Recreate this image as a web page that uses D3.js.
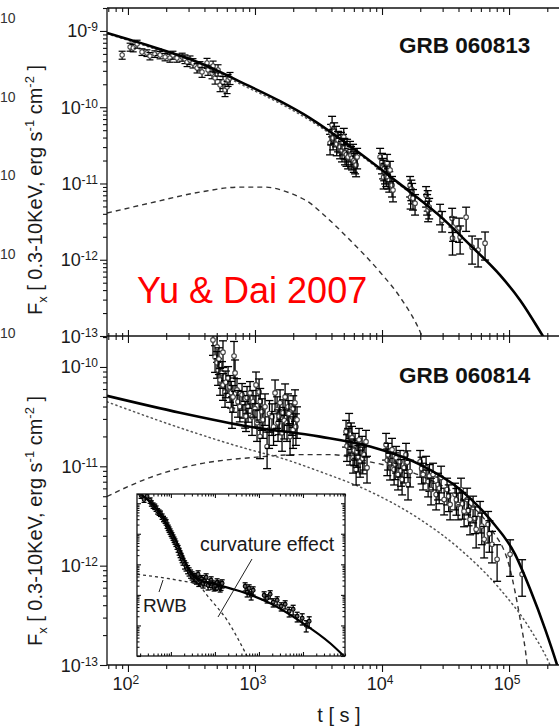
<!DOCTYPE html>
<html>
<head>
<meta charset="utf-8">
<script src="https://cdn.jsdelivr.net/npm/d3@7"></script>
<style>
  html, body { margin: 0; padding: 0; background: #fff; }
  svg { display: block; }
</style>
</head>
<body>
<svg id="chart" width="559" height="727"></svg>
<script>
// ---- GRB 060813: X-ray flux [t (s), F (erg s^-1 cm^-2), relative error] ----
const grb060813Early = [
  [90, 4.84e-10, 0.12], [104, 6.17e-10, 0.12], [110, 5.98e-10, 0.11], [118, 6.75e-10, 0.12],
  [129, 5.30e-10, 0.10], [141, 5.14e-10, 0.10], [149, 4.69e-10, 0.11], [163, 4.99e-10, 0.10],
  [173, 5.30e-10, 0.10], [179, 4.84e-10, 0.11], [196, 4.56e-10, 0.11], [214, 4.42e-10, 0.12],
  [226, 4.84e-10, 0.12], [243, 4.42e-10, 0.12], [267, 4.56e-10, 0.12], [281, 4.29e-10, 0.13],
  [292, 3.92e-10, 0.13], [308, 4.16e-10, 0.13], [325, 3.80e-10, 0.14], [350, 3.27e-10, 0.14],
  [369, 3.47e-10, 0.14], [383, 2.90e-10, 0.15], [419, 3.80e-10, 0.15], [427, 3.08e-10, 0.15],
  [459, 2.81e-10, 0.16], [468, 3.47e-10, 0.16], [485, 2.42e-10, 0.17], [512, 3.08e-10, 0.17],
  [531, 1.95e-10, 0.18], [560, 2.14e-10, 0.18], [581, 1.68e-10, 0.18], [603, 1.84e-10, 0.18],
  [614, 2.28e-10, 0.18], [636, 2.42e-10, 0.18]
];
const grb060813Late = [
  [3900, 3.39e-11, 0.3], [3972, 4.58e-11, 0.3], [4045, 5.84e-11, 0.3], [4120, 3.94e-11, 0.3],
  [4200, 4.8e-11, 0.3], [4345, 4.32e-11, 0.3], [4400, 3.3e-11, 0.3], [4508, 3.71e-11, 0.3],
  [4677, 3.01e-11, 0.3], [4750, 3.6e-11, 0.3], [4842, 2.74e-11, 0.3], [4931, 3.39e-11, 0.3],
  [5000, 4.06e-11, 0.3], [5050, 3.0e-11, 0.3], [5115, 2.51e-11, 0.3], [5250, 2.4e-11, 0.3],
  [5309, 2.92e-11, 0.3], [5408, 2.22e-11, 0.3], [5598, 2.74e-11, 0.3], [5700, 2.35e-11, 0.3],
  [5808, 2.15e-11, 0.3], [5916, 2.51e-11, 0.3], [6000, 2.0e-11, 0.3], [6138, 1.91e-11, 0.3],
  [6250, 1.75e-11, 0.3], [6368, 2.22e-11, 0.3], [9661, 2.22e-11, 0.3], [10000, 1.91e-11, 0.3],
  [10190, 1.64e-11, 0.3], [10300, 1.21e-11, 0.3], [10400, 1.55e-11, 0.3], [10570, 1.41e-11, 0.3],
  [10800, 1.3e-11, 0.3], [10960, 1.85e-11, 0.3], [11170, 1.21e-11, 0.3], [11400, 1.1e-11, 0.3],
  [11570, 1.50e-11, 0.3], [11990, 9.5e-12, 0.3], [12200, 8.2e-12, 0.3],
  [16630, 9.5e-12, 0.3], [16800, 6.6e-12, 0.3], [17000, 8.5e-12, 0.3], [17260, 7.7e-12, 0.3],
  [17540, 6.4e-12, 0.3], [18200, 5.5e-12, 0.3], [22230, 7.0e-12, 0.3], [22650, 5.5e-12, 0.3],
  [22900, 6.2e-12, 0.3], [23070, 4.5e-12, 0.3], [23500, 4.9e-12, 0.3], [28640, 4.1e-12, 0.3],
  [29720, 3.3e-12, 0.3], [35650, 3.5e-12, 0.35], [35900, 1.92e-12, 0.4], [36260, 2.68e-12, 0.35],
  [40430, 2.60e-12, 0.35], [41200, 1.98e-12, 0.4], [45920, 3.62e-12, 0.35], [51170, 1.46e-12, 0.4],
  [57040, 1.34e-12, 0.4], [64740, 1.65e-12, 0.4]
];
// model curves for GRB 060813 [t, F]
const fit060813 = [
  [68.4, 9.4e-10], [149, 6.35e-10], [369, 3.80e-10], [836, 2.01e-10], [1575, 1.20e-10],
  [2712, 7.21e-11], [5598, 3.10e-11], [13870, 9.8e-12], [28640, 3.73e-12], [49360, 1.56e-12],
  [84950, 6.28e-13], [122200, 2.95e-13], [185400, 9.9e-14], [302700, 2.6e-14]
];
const dotted060813 = [
  [68.4, 9.2e-10], [149, 6.1e-10], [369, 3.6e-10], [836, 1.88e-10], [1575, 1.12e-10],
  [2712, 6.7e-11], [5598, 2.95e-11], [13870, 9.5e-12], [28640, 3.7e-12], [49360, 1.56e-12],
  [84950, 6.28e-13], [122200, 2.95e-13], [185400, 9.9e-14], [302700, 2.6e-14]
];
const dashed060813 = [
  [68.4, 4.09e-12], [149, 5.53e-12], [369, 7.71e-12], [762, 8.97e-12], [1199, 8.97e-12],
  [1888, 7.48e-12], [2712, 5.53e-12], [3436, 3.96e-12], [5598, 1.81e-12], [9661, 6.87e-13],
  [13870, 3.23e-13], [20650, 9.9e-14], [24000, 5e-14]
];

// ---- GRB 060814 ----
const grb060814Early = [
  [467, 1.87e-10, 0.3], [485, 1.26e-10, 0.3], [503, 1.59e-10, 0.3], [503, 1.10e-10, 0.3],
  [512, 9.33e-11, 0.3], [520, 1.2e-10, 0.3], [531, 7.41e-11, 0.3], [550, 8.71e-11, 0.3],
  [560, 1.41e-10, 0.3], [560, 6.59e-11, 0.3], [581, 5.61e-11, 0.3], [590, 7.0e-11, 0.3],
  [614, 7.76e-11, 0.3], [636, 6.30e-11, 0.3], [650, 5.5e-11, 0.3], [659, 3.71e-11, 0.35],
  [671, 5.00e-11, 0.3], [684, 1.29e-10, 0.4], [697, 8.71e-11, 0.35], [722, 5.87e-11, 0.3],
  [735, 4.46e-11, 0.3], [760, 4.0e-11, 0.3], [791, 5.24e-11, 0.3], [805, 4.36e-11, 0.3],
  [836, 3.46e-11, 0.3], [850, 3.2e-11, 0.3], [866, 4.89e-11, 0.3], [882, 3.97e-11, 0.3],
  [914, 5.48e-11, 0.3], [948, 3.15e-11, 0.35], [966, 4.46e-11, 0.3], [1000, 3.8e-11, 0.35],
  [1019, 6.59e-11, 0.35], [1038, 2.74e-11, 0.35], [1077, 5.61e-11, 0.35], [1096, 1.99e-11, 0.4],
  [1100, 4.5e-11, 0.35], [1136, 3.54e-11, 0.35], [1157, 2.94e-11, 0.35], [1199, 3.97e-11, 0.35],
  [1245, 1.58e-11, 0.4], [1291, 2.33e-11, 0.35], [1300, 3.4e-11, 0.35], [1362, 3.15e-11, 0.35],
  [1400, 2.5e-11, 0.35], [1439, 5.48e-11, 0.35], [1493, 3.71e-11, 0.35], [1518, 2.74e-11, 0.35],
  [1550, 3.2e-11, 0.35], [1575, 4.36e-11, 0.35], [1633, 2.18e-11, 0.35], [1663, 3.46e-11, 0.35],
  [1700, 2.9e-11, 0.35], [1726, 5.00e-11, 0.35], [1787, 2.74e-11, 0.35], [1820, 3.97e-11, 0.35],
  [1850, 3.4e-11, 0.35], [1888, 1.99e-11, 0.35], [1959, 3.15e-11, 0.35], [1995, 2.33e-11, 0.35],
  [2000, 3.8e-11, 0.35], [2065, 4.36e-11, 0.35], [2100, 2.5e-11, 0.35], [2143, 2.94e-11, 0.35]
];
const grb060814Late = [
  [5212, 2.23e-11, 0.3], [5300, 1.6e-11, 0.3], [5408, 1.85e-11, 0.3], [5508, 2.62e-11, 0.3],
  [5598, 1.47e-11, 0.3], [5700, 2.1e-11, 0.3], [5808, 1.94e-11, 0.3], [5916, 1.22e-11, 0.3],
  [6050, 1.45e-11, 0.3], [6138, 1.65e-11, 0.3], [6252, 9.27e-12, 0.3], [6368, 1.40e-11, 0.3],
  [6500, 1.25e-11, 0.3], [6592, 1.85e-11, 0.3], [6718, 1.11e-11, 0.3], [6966, 1.54e-11, 0.3],
  [7050, 1.2e-11, 0.3], [7228, 1.31e-11, 0.3], [7482, 1.77e-11, 0.3], [7621, 9.70e-12, 0.3],
  [10760, 1.65e-11, 0.3], [11000, 1.15e-11, 0.3], [11170, 1.31e-11, 0.3], [11570, 1.04e-11, 0.3],
  [11990, 1.47e-11, 0.3], [12450, 9.27e-12, 0.3], [12700, 1.05e-11, 0.3], [12910, 1.22e-11, 0.3],
  [13370, 8.26e-12, 0.3], [13870, 1.11e-11, 0.3], [14100, 9.0e-12, 0.3], [14390, 7.36e-12, 0.3],
  [14930, 9.70e-12, 0.3], [15450, 1.31e-11, 0.3], [15800, 1.1e-11, 0.3], [16030, 6.55e-12, 0.3],
  [16630, 8.85e-12, 0.3], [19950, 1.11e-11, 0.3], [20500, 9.5e-12, 0.3], [21040, 8.26e-12, 0.3],
  [22230, 9.70e-12, 0.3], [23070, 7.03e-12, 0.3], [23600, 8.0e-12, 0.3], [24320, 5.84e-12, 0.3],
  [25230, 8.26e-12, 0.3], [26670, 5.20e-12, 0.3], [27610, 6.55e-12, 0.3], [28200, 6.0e-12, 0.3],
  [29170, 7.71e-12, 0.3], [30830, 4.63e-12, 0.3], [32510, 5.84e-12, 0.3], [33500, 5.0e-12, 0.3],
  [34360, 4.13e-12, 0.3], [37580, 5.20e-12, 0.3], [38500, 4.6e-12, 0.3], [39720, 4.13e-12, 0.3],
  [41880, 5.84e-12, 0.3], [43000, 4.2e-12, 0.3], [44260, 3.52e-12, 0.3], [46770, 4.63e-12, 0.3],
  [48000, 3.6e-12, 0.3], [49320, 2.92e-12, 0.3], [52120, 3.85e-12, 0.3], [54000, 3.0e-12, 0.3],
  [55080, 2.32e-12, 0.35], [59160, 3.28e-12, 0.35], [61000, 2.5e-12, 0.35], [63680, 1.84e-12, 0.35],
  [68390, 2.60e-12, 0.35], [70000, 2.1e-12, 0.35], [73450, 1.64e-12, 0.35], [80540, 1.16e-12, 0.4],
  [101900, 1.30e-12, 0.4], [126700, 8.2e-13, 0.4]
];
const fit060814 = [
  [68.4, 5.12e-11], [257, 3.46e-11], [914, 2.50e-11], [3251, 1.99e-11], [8054, 1.58e-11],
  [19950, 1.04e-11], [41200, 5.84e-12], [70960, 2.92e-12], [111600, 1.30e-12], [146600, 5.79e-13],
  [192300, 2.30e-13], [238800, 1.0e-13], [300000, 3.5e-14]
];
const dotted060814 = [
  [68.4, 4.46e-11], [257, 2.44e-11], [914, 1.47e-11], [1575, 1.22e-11], [3251, 8.85e-12],
  [8054, 5.57e-12], [19950, 2.92e-12], [41200, 1.46e-12], [84950, 5.8e-13], [146600, 2.3e-13],
  [210200, 1.0e-13], [260000, 5e-14]
];
const dashed060814 = [
  [68.4, 4.97e-12], [149, 7.71e-12], [369, 1.06e-11], [914, 1.22e-11], [2265, 1.31e-11],
  [3900, 1.31e-11], [8054, 1.11e-11], [19950, 8.07e-12], [41200, 4.85e-12], [70960, 2.43e-12],
  [101900, 9.2e-13], [122200, 2.9e-13], [138800, 1.0e-13], [146600, 4.6e-14]
];

// ---- inset: GRB 060814 with the early steep decay ----
const insetData = [
  [21, 1.80e-8, 0.2], [24.6, 1.33e-8, 0.2], [28.8, 1.67e-8, 0.2], [33.7, 1.24e-8, 0.2],
  [36, 1.0e-8, 0.2], [39.4, 8.48e-9, 0.2], [43, 7.8e-9, 0.2], [46.1, 6.76e-9, 0.2],
  [50, 5.5e-9, 0.2], [53.9, 5.00e-9, 0.2], [58, 4.6e-9, 0.2], [63.1, 3.70e-9, 0.2],
  [68, 3.1e-9, 0.2], [73.8, 2.74e-9, 0.2], [78, 2.4e-9, 0.2], [82, 1.88e-9, 0.2],
  [87, 1.6e-9, 0.2], [91, 1.39e-9, 0.2], [96, 1.2e-9, 0.2], [101, 1.03e-9, 0.2],
  [106, 9.0e-10, 0.2], [112, 7.62e-10, 0.2], [118, 6.5e-10, 0.2], [124, 5.65e-10, 0.2],
  [130, 4.8e-10, 0.2], [138, 3.87e-10, 0.2], [146, 3.3e-10, 0.25], [154, 2.66e-10, 0.25],
  [162, 2.2e-10, 0.25], [171, 1.82e-10, 0.25], [180, 1.5e-10, 0.25], [189, 1.25e-10, 0.25],
  [205, 1.0e-10, 0.3], [221, 8.6e-11, 0.3], [240, 7.0e-11, 0.3], [259, 5.9e-11, 0.3],
  [280, 5.0e-11, 0.3], [303, 4.37e-11, 0.3], [330, 3.9e-11, 0.3], [355, 3.48e-11, 0.3],
  [380, 3.2e-11, 0.3], [415, 4.71e-11, 0.3], [430, 2.7e-11, 0.3], [461, 3.0e-11, 0.3],
  [500, 3.3e-11, 0.3], [540, 2.39e-11, 0.3], [580, 2.8e-11, 0.3], [631, 3.76e-11, 0.3],
  [700, 2.06e-11, 0.3], [760, 2.5e-11, 0.3], [820, 3.0e-11, 0.3], [880, 2.2e-11, 0.3],
  [959, 1.91e-11, 0.3], [1040, 2.0e-11, 0.3], [1122, 2.58e-11, 0.3], [1220, 2.2e-11, 0.3],
  [1313, 1.77e-11, 0.3], [1380, 2.0e-11, 0.3], [1459, 2.39e-11, 0.3],
  [4856, 1.91e-11, 0.3], [5395, 1.22e-11, 0.3], [5984, 1.64e-11, 0.3], [6653, 9.7e-12, 0.3],
  [7389, 1.41e-11, 0.3], [13120, 9.7e-12, 0.3], [15350, 7.74e-12, 0.3], [17990, 1.05e-11, 0.3],
  [21040, 5.73e-12, 0.3], [25940, 6.66e-12, 0.3], [31990, 4.24e-12, 0.3], [39360, 4.93e-12, 0.3],
  [48530, 2.91e-12, 0.35], [59840, 3.38e-12, 0.35], [73790, 2.0e-12, 0.35], [95940, 1.72e-12, 0.4],
  [118300, 1.02e-12, 0.4], [138400, 1.37e-12, 0.4]
];
const insetFit = [
  [18.9, 2.25e-8], [56.8, 4.64e-9], [162, 3.09e-10], [273, 5.48e-11], [461, 3.0e-11],
  [1011, 2.22e-11], [3741, 1.31e-11], [17990, 5.31e-12], [86300, 1.37e-12], [415000, 2.62e-13],
  [863000, 9.8e-14]
];
const insetRwb = [[17.1, 4.71e-11], [82, 3.48e-11], [394, 2.39e-11], [1011, 2.1e-11]];
const insetCurvature = [[210, 9.3e-11], [665, 9.7e-12], [1892, 1.48e-12], [5395, 9.8e-14]];

// axis tick labels
const xTickLabels = [["10", "2", 100], ["10", "3", 1000], ["10", "4", 10000], ["10", "5", 100000]];
const topYLabels = [["10", "-9", 1e-9], ["10", "-10", 1e-10], ["10", "-11", 1e-11], ["10", "-12", 1e-12], ["10", "-13", 1e-13]];
const botYLabels = [["10", "-10", 1e-10], ["10", "-11", 1e-11], ["10", "-12", 1e-12], ["10", "-13", 1e-13]];
const edgeLabels = ["10", "10", "10", "10", "10"];

// ---------------------------------------------------------------
const FONT = '"Liberation Sans", Arial, Helvetica, sans-serif';
const svg = d3.select("#chart").attr("font-family", FONT);
svg.append("rect").attr("width", 559).attr("height", 727).attr("fill", "#fff");

const L = 107, R = 559, T = 8, MID = 336, B = 665;
const x = d3.scaleLog().domain([68.4, 5.2e5]).range([L, 600]);
const yTop = d3.scaleLog().domain([1e-13, 2e-9]).range([MID, T]);
const yBot = d3.scaleLog().domain([1e-13, 2.05e-10]).range([B, MID]);

function logTicks(lo, hi) {
  const major = [], minor = [];
  for (let e = Math.floor(Math.log10(lo)) - 1; e <= Math.ceil(Math.log10(hi)); e++) {
    for (let m = 1; m < 10; m++) {
      const v = +(m + "e" + e);
      if (v < lo * 0.9999 || v > hi * 1.0001) continue;
      (m === 1 ? major : minor).push(v);
    }
  }
  return { major, minor };
}

function tickAxis(g, axisFn, scale, vals, size, transform) {
  const a = g.append("g").attr("transform", transform)
    .call(axisFn(scale).tickValues(vals).tickSize(size).tickSizeOuter(0).tickFormat(""));
  a.select(".domain").remove();
  a.selectAll("line").attr("stroke", "#111").attr("stroke-width", 1.1);
}

// clip regions
const defs = svg.append("defs");
defs.append("clipPath").attr("id", "clipTop").append("rect").attr("x", L).attr("y", T).attr("width", R - L).attr("height", MID - T);
defs.append("clipPath").attr("id", "clipBot").append("rect").attr("x", L).attr("y", MID).attr("width", R - L).attr("height", B - MID);

const lineGen = (xs, ys) => d3.line().x(d => xs(d[0])).y(d => ys(d[1])).curve(d3.curveMonotoneX);

function drawCurve(g, data, xs, ys, style) {
  g.append("path").datum(data).attr("d", lineGen(xs, ys)).attr("fill", "none")
    .attr("stroke", style.color).attr("stroke-width", style.width)
    .attr("stroke-dasharray", style.dash || null).attr("stroke-linecap", style.cap || "butt");
}

function drawPoints(g, data, xs, ys, opt) {
  const p = g.append("g").selectAll("g").data(data).enter().append("g");
  const up = d => ys(d[1] * (1 + d[2])), lo = d => ys(d[1] * (1 - d[2]));
  p.append("line").attr("x1", d => xs(d[0])).attr("x2", d => xs(d[0]))
    .attr("y1", up).attr("y2", lo).attr("stroke", opt.bar).attr("stroke-width", opt.bw);
  p.append("line").attr("x1", d => xs(d[0]) - opt.cap).attr("x2", d => xs(d[0]) + opt.cap)
    .attr("y1", up).attr("y2", up).attr("stroke", opt.bar).attr("stroke-width", opt.bw);
  p.append("line").attr("x1", d => xs(d[0]) - opt.cap).attr("x2", d => xs(d[0]) + opt.cap)
    .attr("y1", lo).attr("y2", lo).attr("stroke", opt.bar).attr("stroke-width", opt.bw);
  p.append("circle").attr("cx", d => xs(d[0])).attr("cy", d => ys(d[1])).attr("r", opt.r)
    .attr("fill", opt.fill).attr("stroke", opt.marker).attr("stroke-width", 1.1);
}

const mainPts = { r: 2.3, cap: 4, bar: "#000", bw: 1.3, marker: "#444", fill: "#fff" };
const earlyPts = { r: 2.2, cap: 3.5, bar: "#000", bw: 1.2, marker: "#444", fill: "#fff" };
const insetPts = { r: 1.9, cap: 2.5, bar: "#000", bw: 1.3, marker: "#000", fill: "#666" };

const solidStyle = { color: "#000", width: 2.6 };
const dottedStyle = { color: "#555", width: 1.5, dash: "1.2,3.5", cap: "round" };
const dashedStyle = { color: "#333", width: 1.4, dash: "5,4" };

// ---- top panel ----
const gTop = svg.append("g").attr("clip-path", "url(#clipTop)");
drawCurve(gTop, dashed060813, x, yTop, dashedStyle);
drawCurve(gTop, dotted060813, x, yTop, dottedStyle);
drawPoints(gTop, grb060813Early, x, yTop, earlyPts);
drawPoints(gTop, grb060813Late, x, yTop, mainPts);
drawCurve(gTop, fit060813, x, yTop, solidStyle);

// ---- bottom panel ----
const gBot = svg.append("g").attr("clip-path", "url(#clipBot)");
drawCurve(gBot, dashed060814, x, yBot, dashedStyle);
drawCurve(gBot, dotted060814, x, yBot, dottedStyle);
drawPoints(gBot, grb060814Early, x, yBot, mainPts);
drawPoints(gBot, grb060814Late, x, yBot, mainPts);
drawCurve(gBot, fit060814, x, yBot, solidStyle);

// ---- frame lines ----
const frame = svg.append("g").attr("stroke", "#111").attr("stroke-width", 1.3);
frame.append("line").attr("x1", L).attr("x2", R).attr("y1", T).attr("y2", T);
frame.append("line").attr("x1", L).attr("x2", R).attr("y1", MID).attr("y2", MID);
frame.append("line").attr("x1", L).attr("x2", R).attr("y1", B).attr("y2", B);
frame.append("line").attr("x1", L).attr("x2", L).attr("y1", T).attr("y2", B);

// ---- x ticks ----
const xt = logTicks(68.4, 5.2e5);
const xMaj = xt.major.filter(v => x(v) <= R), xMin = xt.minor.filter(v => x(v) <= R);
tickAxis(svg, d3.axisBottom, x, xMaj, 7, `translate(0,${T})`);
tickAxis(svg, d3.axisBottom, x, xMin, 4, `translate(0,${T})`);
tickAxis(svg, d3.axisBottom, x, xMaj, 7, `translate(0,${MID})`);
tickAxis(svg, d3.axisBottom, x, xMin, 4, `translate(0,${MID})`);
tickAxis(svg, d3.axisTop, x, xMaj, 6, `translate(0,${MID})`);
tickAxis(svg, d3.axisTop, x, xMin, 3, `translate(0,${MID})`);
tickAxis(svg, d3.axisBottom, x, xMaj, 7, `translate(0,${B})`);
tickAxis(svg, d3.axisBottom, x, xMin, 4, `translate(0,${B})`);

// ---- y ticks ----
const ytT = logTicks(1e-13, 2e-9), ytB = logTicks(1e-13, 2.05e-10);
tickAxis(svg, d3.axisLeft, yTop, ytT.major, 7, `translate(${L},0)`);
tickAxis(svg, d3.axisLeft, yTop, ytT.minor, 4, `translate(${L},0)`);
tickAxis(svg, d3.axisLeft, yBot, ytB.major, 7, `translate(${L},0)`);
tickAxis(svg, d3.axisLeft, yBot, ytB.minor, 4, `translate(${L},0)`);

// ---- tick labels ----
function powerLabel(g, px, py, base, exp, anchor) {
  const t = g.append("text").attr("x", px).attr("y", py).attr("text-anchor", anchor)
    .attr("font-size", 18).attr("fill", "#1a1a1a");
  t.append("tspan").text(base);
  t.append("tspan").attr("dy", -6).attr("font-size", 12).text(exp);
}
const labels = svg.append("g");
topYLabels.forEach(d => powerLabel(labels, 98, yTop(d[2]) + 6.5, d[0], d[1], "end"));
botYLabels.forEach(d => powerLabel(labels, 98, yBot(d[2]) + 6.5, d[0], d[1], "end"));
xTickLabels.forEach(d => powerLabel(labels, x(d[2]) - 2, 690, d[0], d[1], "middle"));

// labels along the left edge
edgeLabels.forEach((s, i) => {
  labels.append("text").attr("x", 0).attr("y", 23 + i * 78.7).attr("text-anchor", "start")
    .attr("font-size", 14).attr("fill", "#333").text(s);
});

// ---- axis titles ----
function fluxTitle(cy) {
  const t = svg.append("text").attr("transform", `translate(42,${cy}) rotate(-90)`)
    .attr("text-anchor", "middle").attr("font-size", 20).attr("fill", "#1a1a1a");
  t.append("tspan").text("F");
  t.append("tspan").attr("dy", 5).attr("font-size", 13).text("x");
  t.append("tspan").attr("dy", -5).text(" [ 0.3-10KeV, erg s");
  t.append("tspan").attr("dy", -8).attr("font-size", 13).text("-1");
  t.append("tspan").attr("dy", 8).text(" cm");
  t.append("tspan").attr("dy", -8).attr("font-size", 13).text("-2");
  t.append("tspan").attr("dy", 8).text(" ]");
}
fluxTitle(190);
fluxTitle(521);
svg.append("text").attr("x", 339).attr("y", 722).attr("text-anchor", "middle")
  .attr("font-size", 20).attr("fill", "#1a1a1a").text("t [ s ]");

svg.append("text").attr("x", 399).attr("y", 53).attr("font-size", 22.5).attr("font-weight", "bold")
  .attr("fill", "#111").text("GRB 060813");
svg.append("text").attr("x", 399).attr("y", 383).attr("font-size", 22.5).attr("font-weight", "bold")
  .attr("fill", "#111").text("GRB 060814");
svg.append("text").attr("x", 137).attr("y", 303).attr("font-size", 36).attr("fill", "#ff0000")
  .text("Yu & Dai 2007");

// ---- inset ----
const IL = 137, IR = 345, IT = 494, IB = 656;
const xi = d3.scaleLog().domain([17, 9e5]).range([IL, IR]);
const yi = d3.scaleLog().domain([1e-13, 2e-8]).range([IB, IT]);
defs.append("clipPath").attr("id", "clipInset").append("rect").attr("x", IL).attr("y", IT).attr("width", IR - IL).attr("height", IB - IT);
const gIn = svg.append("g");
gIn.append("rect").attr("x", IL).attr("y", IT).attr("width", IR - IL).attr("height", IB - IT).attr("fill", "#fff");
const gInPlot = gIn.append("g").attr("clip-path", "url(#clipInset)");
drawCurve(gInPlot, insetRwb, xi, yi, { color: "#333", width: 1.3, dash: "3,3" });
drawCurve(gInPlot, insetCurvature, xi, yi, { color: "#333", width: 1.3, dash: "3,3" });
drawPoints(gInPlot, insetData, xi, yi, insetPts);
drawCurve(gInPlot, insetFit, xi, yi, { color: "#000", width: 2.2 });
gIn.append("rect").attr("x", IL).attr("y", IT).attr("width", IR - IL).attr("height", IB - IT)
  .attr("fill", "none").attr("stroke", "#111").attr("stroke-width", 1.3);
const xit = logTicks(17, 9e5), yit = logTicks(1e-13, 2e-8);
tickAxis(gIn, d3.axisTop, xi, xit.major, 4, `translate(0,${IB})`);
tickAxis(gIn, d3.axisTop, xi, xit.minor, 2.5, `translate(0,${IB})`);
tickAxis(gIn, d3.axisBottom, xi, xit.major, 4, `translate(0,${IT})`);
tickAxis(gIn, d3.axisBottom, xi, xit.minor, 2.5, `translate(0,${IT})`);
tickAxis(gIn, d3.axisRight, yi, yit.major, 4, `translate(${IL},0)`);
tickAxis(gIn, d3.axisRight, yi, yit.minor, 2.5, `translate(${IL},0)`);
tickAxis(gIn, d3.axisLeft, yi, yit.major, 4, `translate(${IR},0)`);
tickAxis(gIn, d3.axisLeft, yi, yit.minor, 2.5, `translate(${IR},0)`);

gIn.append("text").attr("x", 200).attr("y", 551).attr("font-size", 19.5).attr("fill", "#1a1a1a")
  .text("curvature effect");
gIn.append("line").attr("x1", 252).attr("y1", 559).attr("x2", 218).attr("y2", 617)
  .attr("stroke", "#222").attr("stroke-width", 1);
gIn.append("text").attr("x", 143).attr("y", 612).attr("font-size", 19).attr("fill", "#1a1a1a")
  .text("RWB");
gIn.append("line").attr("x1", 163).attr("y1", 580).attr("x2", 159).attr("y2", 592)
  .attr("stroke", "#222").attr("stroke-width", 1);
</script>
</body>
</html>
